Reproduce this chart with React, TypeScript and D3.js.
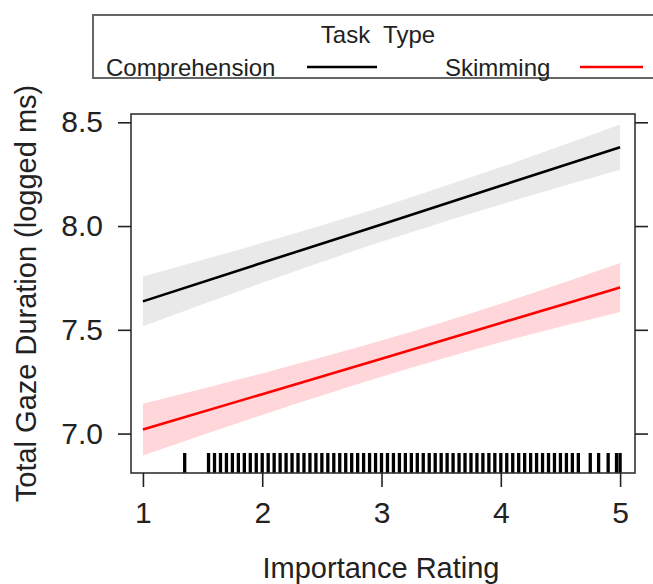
import { useEffect, useRef } from "react";
import * as d3 from "d3";

// fitted effect of importance rating, by task type
const RATING = [1, 2, 3, 4, 5];
const COMP_FIT = [7.637, 7.823, 8.008, 8.194, 8.38];
const COMP_LO = [7.517, 7.727, 7.924, 8.104, 8.271];
const COMP_HI = [7.757, 7.919, 8.092, 8.284, 8.489];
const SKIM_FIT = [7.02, 7.19, 7.361, 7.533, 7.704];
const SKIM_LO = [6.894, 7.09, 7.274, 7.44, 7.586];
const SKIM_HI = [7.144, 7.29, 7.448, 7.626, 7.822];

// observed importance ratings (rug)
const RUG = [
  1.35, 1.55, 1.6, 1.65, 1.7, 1.75, 1.8, 1.85, 1.9, 1.95, 2, 2.05, 2.1, 2.15,
  2.2, 2.25, 2.3, 2.35, 2.4, 2.45, 2.5, 2.55, 2.6, 2.65, 2.7, 2.75, 2.8, 2.85,
  2.9, 2.95, 3, 3.05, 3.1, 3.15, 3.2, 3.25, 3.3, 3.35, 3.4, 3.45, 3.5, 3.55,
  3.6, 3.65, 3.7, 3.75, 3.8, 3.85, 3.9, 3.95, 4, 4.05, 4.1, 4.15, 4.2, 4.25,
  4.3, 4.35, 4.4, 4.45, 4.5, 4.55, 4.6, 4.65, 4.75, 4.82, 4.9, 4.97, 5.0,
];

const X_TICKS = [1, 2, 3, 4, 5];
const Y_TICKS = [7.0, 7.5, 8.0, 8.5];

const SERIES = [
  { name: "Comprehension", fit: COMP_FIT, lo: COMP_LO, hi: COMP_HI, line: "#000000", band: "#e9e9e9" },
  { name: "Skimming", fit: SKIM_FIT, lo: SKIM_LO, hi: SKIM_HI, line: "#ff0000", band: "#ffd7da" },
];

const FONT = "'Liberation Sans', Arial, sans-serif";
const W = 653;
const H = 584;

export default function App() {
  const svgRef = useRef<SVGSVGElement>(null);

  useEffect(() => {
    const svg = d3.select(svgRef.current);
    svg.selectAll("*").remove();

    const box = { left: 131, right: 635, top: 114, bottom: 473 };
    const x = d3.scaleLinear().domain([0.9, 5.125]).range([box.left, box.right]);
    const y = d3.scaleLinear().domain([6.81, 8.54]).range([box.bottom, box.top]);

    svg.append("rect").attr("width", W).attr("height", H).attr("fill", "#fff");

    // bands, then lines
    for (const s of SERIES) {
      const pts = RATING.map((r, i) => ({ r, fit: s.fit[i], lo: s.lo[i], hi: s.hi[i] }));
      svg
        .append("path")
        .datum(pts)
        .attr("fill", s.band)
        .attr(
          "d",
          d3
            .area<(typeof pts)[0]>()
            .x((d) => x(d.r))
            .y0((d) => y(d.lo))
            .y1((d) => y(d.hi))
            .curve(d3.curveMonotoneX),
        );
    }
    for (const s of SERIES) {
      const pts = RATING.map((r, i) => ({ r, fit: s.fit[i] }));
      svg
        .append("path")
        .datum(pts)
        .attr("fill", "none")
        .attr("stroke", s.line)
        .attr("stroke-width", 2.6)
        .attr(
          "d",
          d3
            .line<(typeof pts)[0]>()
            .x((d) => x(d.r))
            .y((d) => y(d.fit)),
        );
    }

    // rug
    svg
      .append("g")
      .selectAll("line")
      .data(RUG)
      .join("line")
      .attr("x1", (d) => x(d))
      .attr("x2", (d) => x(d))
      .attr("y1", box.bottom - 20)
      .attr("y2", box.bottom)
      .attr("stroke", "#000")
      .attr("stroke-width", 3.3);

    // panel
    svg
      .append("rect")
      .attr("x", box.left)
      .attr("y", box.top)
      .attr("width", box.right - box.left)
      .attr("height", box.bottom - box.top)
      .attr("fill", "none")
      .attr("stroke", "#333")
      .attr("stroke-width", 1.6);

    const styleAxis = (g: d3.Selection<SVGGElement, unknown, null, undefined>) => {
      g.select(".domain").remove();
      g.selectAll(".tick line").attr("stroke", "#222").attr("stroke-width", 1.6);
      g.selectAll(".tick text")
        .attr("fill", "#222")
        .attr("font-family", FONT)
        .attr("font-size", 30);
    };

    svg
      .append("g")
      .attr("transform", `translate(${box.left},0)`)
      .call(
        d3
          .axisLeft(y)
          .tickValues(Y_TICKS)
          .tickFormat(d3.format(".1f"))
          .tickSize(13)
          .tickPadding(15),
      )
      .call(styleAxis);

    svg
      .append("g")
      .attr("transform", `translate(${box.right},0)`)
      .call(d3.axisRight(y).tickValues(Y_TICKS).tickFormat(() => "").tickSize(13))
      .call(styleAxis);

    svg
      .append("g")
      .attr("transform", `translate(0,${box.bottom})`)
      .call(
        d3
          .axisBottom(x)
          .tickValues(X_TICKS)
          .tickFormat(d3.format("d"))
          .tickSize(14)
          .tickPadding(15),
      )
      .call(styleAxis);

    // axis titles
    svg
      .append("text")
      .attr("x", 381)
      .attr("y", 578)
      .attr("text-anchor", "middle")
      .attr("font-family", FONT)
      .attr("font-size", 29)
      .attr("fill", "#222")
      .text("Importance Rating");

    svg
      .append("text")
      .attr("transform", `translate(36,${(box.top + box.bottom) / 2}) rotate(-90)`)
      .attr("text-anchor", "middle")
      .attr("font-family", FONT)
      .attr("font-size", 29)
      .attr("fill", "#222")
      .text("Total Gaze Duration (logged ms)");

    // legend
    const lg = svg.append("g");
    lg.append("rect")
      .attr("x", 93)
      .attr("y", 15)
      .attr("width", 700)
      .attr("height", 63)
      .attr("fill", "#fff")
      .attr("stroke", "#666")
      .attr("stroke-width", 2);
    lg.append("text")
      .attr("x", 378)
      .attr("y", 43)
      .attr("text-anchor", "middle")
      .attr("font-family", FONT)
      .attr("font-size", 24)
      .attr("fill", "#222")
      .attr("xml:space", "preserve")
      .text("Task  Type");
    const legendPos = [
      { tx: 106, lx1: 307, lx2: 377 },
      { tx: 445, lx1: 580, lx2: 643 },
    ];
    SERIES.forEach((s, i) => {
      const p = legendPos[i];
      lg.append("text")
        .attr("x", p.tx)
        .attr("y", 76)
        .attr("font-family", FONT)
        .attr("font-size", 24)
        .attr("fill", "#222")
        .text(s.name);
      lg.append("line")
        .attr("x1", p.lx1)
        .attr("x2", p.lx2)
        .attr("y1", 67)
        .attr("y2", 67)
        .attr("stroke", s.line)
        .attr("stroke-width", 2.6);
    });
  }, []);

  return (
    <svg
      ref={svgRef}
      width={W}
      height={H}
      style={{ position: "absolute", left: 0, top: 0, display: "block" }}
    />
  );
}
